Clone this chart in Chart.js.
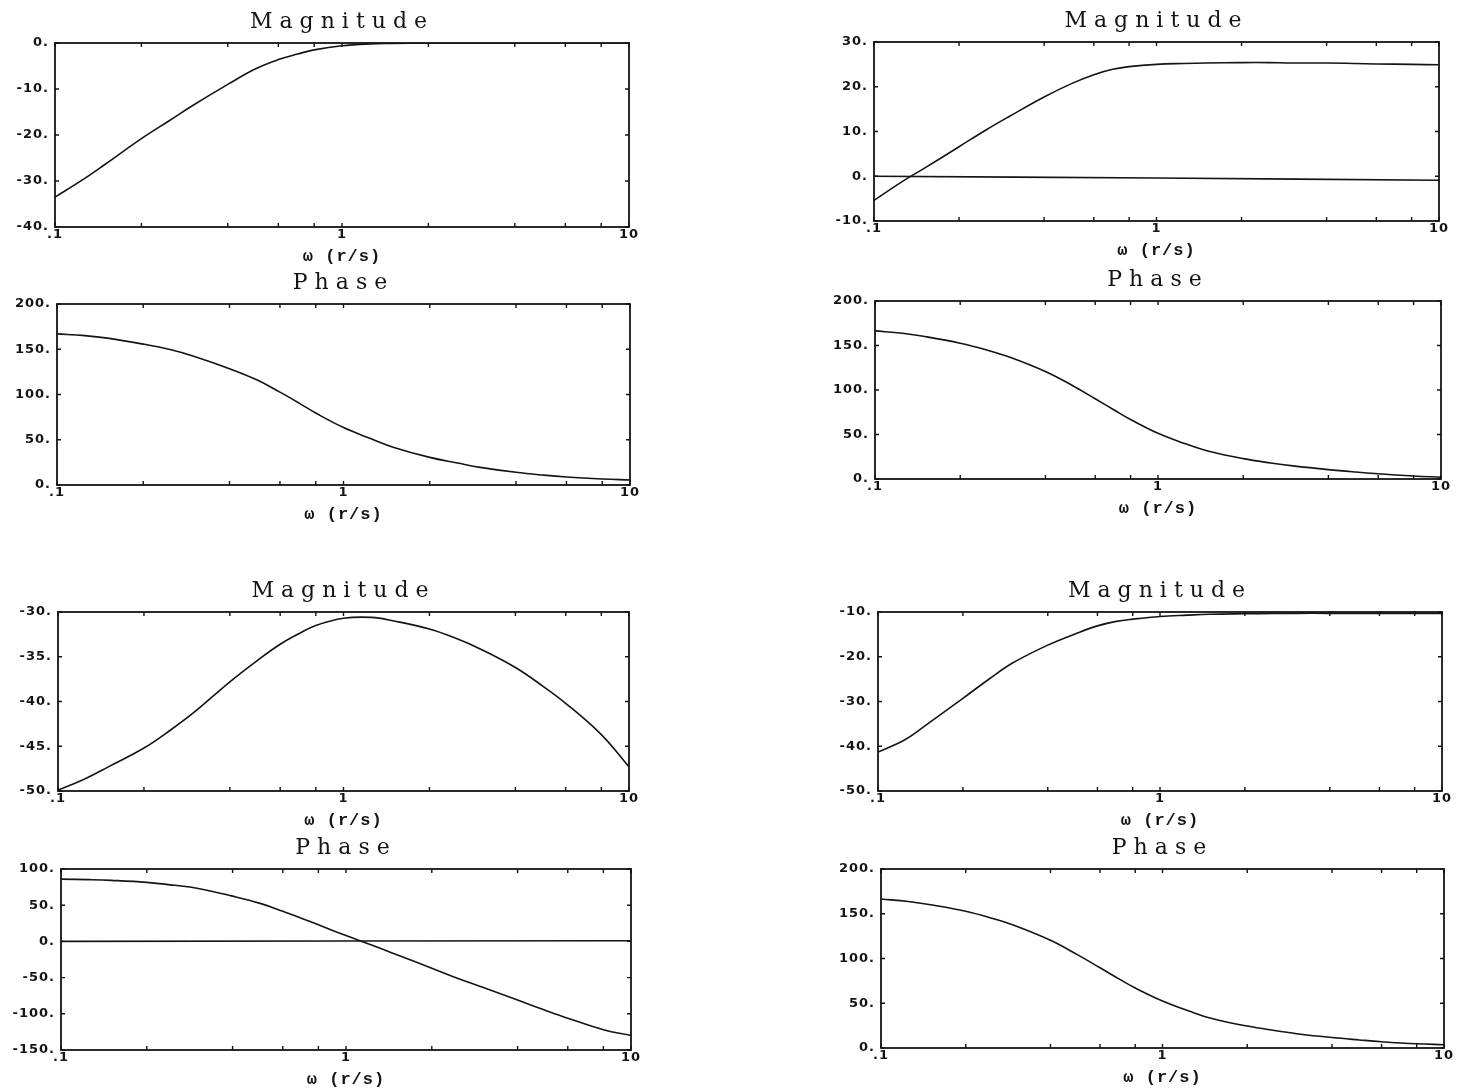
<!DOCTYPE html>
<html>
<head>
<meta charset="utf-8">
<title>Magnitude / Phase</title>
<script src="https://cdn.jsdelivr.net/npm/chart.js@4.4.1/dist/chart.umd.min.js"></script>
<style>
  body { margin: 0; background: #fff; }
  #page { position: relative; width: 1460px; height: 1091px; overflow: hidden; background: #fff; }
  #page canvas { position: absolute; }
</style>
</head>
<body>
<div id="page"></div>
<script>
// frequency points (r/s) shared by all the curves
var omega = [0.1, 0.125, 0.15, 0.2, 0.25, 0.3, 0.4, 0.5, 0.6, 0.7, 0.8, 1, 1.25, 1.5, 2, 2.5, 3, 4, 5, 6, 8, 10];

// upper left pair
var magA   = [-33.5, -29.7, -26.3, -20.8, -16.9, -13.7, -9.0, -5.6, -3.6, -2.4, -1.5, -0.6, -0.2, -0.1, 0, 0, 0, 0, 0, 0, 0, 0];
var phaseA = [167, 165.1, 162.3, 155.7, 149.4, 142.3, 128.5, 116, 102.6, 90.5, 79.5, 63.5, 51, 41.5, 30.5, 24.3, 19.5, 14, 10.9, 8.9, 6.7, 5.5];

// lower left pair
var magB   = [-49.9, -48.6, -47.3, -45.2, -43.1, -41.2, -37.8, -35.4, -33.6, -32.4, -31.5, -30.7, -30.6, -31, -31.9, -33, -34.1, -36.2, -38.3, -40.2, -43.7, -47.3];
var phaseB = [86, 85.3, 84.3, 81.5, 77.5, 73.5, 62.5, 52.5, 41.5, 31.7, 22.9, 8, -6, -18, -37, -52, -63, -81, -95, -106, -122, -130];
var zeroBX = [0.1, 10];
var zeroBY = [0, 1];

// upper right pair
var magC   = [-5.4, -1.3, 1.7, 6.6, 10.4, 13.3, 17.7, 20.7, 22.7, 23.9, 24.5, 25.0, 25.2, 25.3, 25.4, 25.4, 25.3, 25.3, 25.2, 25.1, 25.0, 24.9];
var refCX  = [0.1, 1, 10];
var refCY  = [0, -0.4, -0.9];
var phaseC = [166.4, 163.7, 160.1, 152.6, 144.7, 136.8, 120.8, 104.8, 90.2, 77.5, 66.8, 51.3, 39.5, 31.5, 22.9, 18.0, 14.7, 10.5, 7.8, 5.9, 3.4, 2.0];

// lower right pair
var magD   = [-41.3, -38.5, -35, -29.3, -24.8, -21.4, -17.4, -14.9, -13.1, -12.1, -11.6, -11, -10.7, -10.5, -10.4, -10.35, -10.3, -10.3, -10.3, -10.3, -10.3, -10.3];
var phaseD = [166.5, 163.6, 160, 152.8, 144.6, 136.5, 120.3, 104, 89.6, 77.2, 67, 52.5, 41, 33, 24.5, 19.5, 16, 11.7, 9, 7, 4.7, 3.7];

// x axis ticks (log) and their labels
var xTickValues = [0.1, 0.2, 0.4, 0.6, 0.8, 1, 2, 4, 6, 8, 10];
var xTickText   = ['.1', '', '', '', '', '1', '', '', '', '', '10'];

var INK = '#141414';

function pts(xs, ys) {
  return xs.map(function (x, i) { return {x: x, y: ys[i]}; });
}

// plot box [left, top, right, bottom] in page pixels, y axis [min, max, step]
var panels = [
  {title: 'Magnitude', box: [55, 43, 629, 227],    y: [-40, 0, 10],    lines: [pts(omega, magA)]},
  {title: 'Phase',     box: [57, 304, 630, 485],   y: [0, 200, 50],    lines: [pts(omega, phaseA)]},
  {title: 'Magnitude', box: [58, 612, 629, 791],   y: [-50, -30, 5],   lines: [pts(omega, magB)]},
  {title: 'Phase',     box: [61, 869, 631, 1050],  y: [-150, 100, 50], lines: [pts(omega, phaseB), pts(zeroBX, zeroBY)]},
  {title: 'Magnitude', box: [874, 42, 1439, 221],  y: [-10, 30, 10],   lines: [pts(omega, magC), pts(refCX, refCY)]},
  {title: 'Phase',     box: [875, 301, 1441, 479], y: [0, 200, 50],    lines: [pts(omega, phaseC)]},
  {title: 'Magnitude', box: [878, 612, 1442, 791], y: [-50, -10, 10],  lines: [pts(omega, magD)]},
  {title: 'Phase',     box: [881, 869, 1444, 1048], y: [0, 200, 50],   lines: [pts(omega, phaseD)]}
];

var Y_W = 52;      // y axis width
var TOP_H = 34;    // title block
var X_H = 40;      // x axis (labels + title)
var PAD_R = 18;

// frame round the plot area with small inward ticks, like the old plotter output
var framePlugin = {
  id: 'frame',
  beforeDraw: function (chart) {
    chart.ctx.letterSpacing = '1px';
    var tb = chart.titleBlock;
    if (tb && !tb._spaced) {
      var orig = tb.draw.bind(tb);
      tb.draw = function () {
        var c = chart.ctx;
        var old = c.letterSpacing;
        c.letterSpacing = '7px';
        orig();
        c.letterSpacing = old;
      };
      tb._spaced = true;
    }
  },
  afterDatasetsDraw: function (chart) {
    var ctx = chart.ctx, a = chart.chartArea;
    var xs = chart.scales.x, ys = chart.scales.y;
    ctx.save();
    ctx.strokeStyle = INK;
    ctx.lineWidth = 1.8;
    ctx.strokeRect(a.left, a.top, a.right - a.left, a.bottom - a.top);
    ctx.lineWidth = 1.4;
    ctx.beginPath();
    xs.ticks.forEach(function (t) {
      var px = xs.getPixelForValue(t.value);
      ctx.moveTo(px, a.bottom); ctx.lineTo(px, a.bottom - 4);
      ctx.moveTo(px, a.top);    ctx.lineTo(px, a.top + 4);
    });
    ys.ticks.forEach(function (t) {
      var py = ys.getPixelForValue(t.value);
      ctx.moveTo(a.left, py);  ctx.lineTo(a.left + 4, py);
      ctx.moveTo(a.right, py); ctx.lineTo(a.right - 4, py);
    });
    ctx.stroke();
    ctx.restore();
  }
};

var page = document.getElementById('page');

panels.forEach(function (p) {
  var L = p.box[0], T = p.box[1], R = p.box[2], B = p.box[3];
  var cv = document.createElement('canvas');
  var w = (R - L) + Y_W + PAD_R;
  var h = (B - T) + TOP_H + X_H;
  cv.width = w; cv.height = h;
  cv.style.left = (L - Y_W) + 'px';
  cv.style.top = (T - TOP_H) + 'px';
  cv.style.width = w + 'px';
  cv.style.height = h + 'px';
  page.appendChild(cv);

  new Chart(cv.getContext('2d'), {
    type: 'line',
    data: {
      datasets: p.lines.map(function (d) {
        return {
          data: d,
          borderColor: INK,
          borderWidth: 1.6,
          pointRadius: 0,
          fill: false,
          tension: 0.4
        };
      })
    },
    options: {
      responsive: false,
      animation: false,
      events: [],
      layout: { padding: { top: 0, left: 0, right: PAD_R, bottom: 0 } },
      plugins: {
        legend: { display: false },
        tooltip: { enabled: false },
        title: {
          display: true,
          text: p.title,
          fullSize: false,
          color: INK,
          font: { family: 'DejaVu Serif', size: 22, weight: 'normal', lineHeight: 1.2 },
          padding: { top: 0, bottom: TOP_H - 26.4 }
        }
      },
      scales: {
        x: {
          type: 'logarithmic',
          min: 0.1,
          max: 10,
          grid: { display: false, drawTicks: false },
          border: { display: false },
          afterBuildTicks: function (s) {
            s.ticks = xTickValues.map(function (v) { return {value: v}; });
          },
          afterFit: function (s) { s.height = X_H; },
          ticks: {
            autoSkip: false,
            maxRotation: 0,
            padding: 0,
            color: INK,
            font: { family: 'DejaVu Sans', size: 13, weight: 'bold' },
            callback: function (v, i) { return xTickText[i]; }
          },
          title: {
            display: true,
            text: 'ω (r/s)',
            color: INK,
            padding: { top: 0, bottom: 0 },
            font: { family: 'Liberation Mono', size: 17, weight: 'bold', lineHeight: 1.2 }
          }
        },
        y: {
          min: p.y[0],
          max: p.y[1],
          grid: { display: false, drawTicks: false },
          border: { display: false },
          afterFit: function (s) { s.width = Y_W; },
          ticks: {
            stepSize: p.y[2],
            padding: 6,
            color: INK,
            font: { family: 'DejaVu Sans', size: 13, weight: 'bold' },
            callback: function (v) { return v + '.'; }
          }
        }
      }
    },
    plugins: [framePlugin]
  });
});
</script>
</body>
</html>
